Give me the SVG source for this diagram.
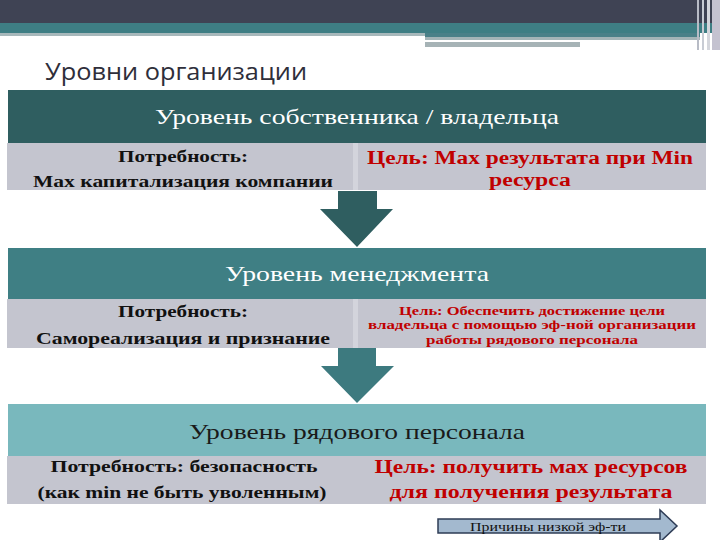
<svg xmlns="http://www.w3.org/2000/svg" width="720" height="540" viewBox="0 0 720 540">
<style>
.hdr{font-family:"Liberation Serif","DejaVu Serif",serif;font-size:22px;text-anchor:middle}
.need{font-family:"Liberation Serif","DejaVu Serif",serif;font-weight:bold;font-size:16px;fill:#111;text-anchor:middle}
.goal{font-family:"Liberation Serif","DejaVu Serif",serif;font-weight:bold;fill:#c00000;text-anchor:middle}
.cell{fill:#c4c5cf}
.split{fill:#d3d4dc}
</style>
<rect width="720" height="540" fill="#ffffff"/>
<g id="banner">
<rect x="0" y="0" width="720" height="23" fill="#3f4354"/>
<rect x="0" y="23" width="720" height="10" fill="#3e7e84"/>
<rect x="0" y="33" width="425" height="3" fill="#a7b8bb"/>
<rect x="425" y="33" width="275" height="4" fill="#4a8088"/>
<rect x="425" y="37" width="275" height="3" fill="#a4b4b7"/>
<rect x="425" y="40" width="242" height="2" fill="#ffffff"/>
<rect x="425" y="42" width="155" height="5" fill="#a6b3b6"/>
<rect x="697" y="0" width="2" height="50" fill="#b8bcc6"/>
<rect x="702" y="0" width="2" height="50" fill="#c8ccd4"/>
<rect x="707" y="0" width="3" height="50" fill="#d4d6dc"/>
<rect x="712" y="0" width="8" height="50" fill="#c4c2d0"/>
<text x="45" y="80" font-family="'Open Sans','Liberation Sans',sans-serif" font-size="24" fill="#2e2e3a" textLength="262" lengthAdjust="spacingAndGlyphs">Уровни организации</text>
</g>
<g id="node-owner">
<rect x="8" y="90" width="698" height="53" fill="#2f5e60"/>
<text class="hdr" x="357" y="124" fill="#ffffff" textLength="404" lengthAdjust="spacingAndGlyphs">Уровень собственника / владельца</text>
<rect class="cell" x="7" y="143" width="699" height="47"/>
<rect class="split" x="353" y="143" width="5" height="47"/>
<text class="need" x="183" y="162" textLength="130" lengthAdjust="spacingAndGlyphs">Потребность:</text>
<text class="need" x="183" y="187" textLength="300" lengthAdjust="spacingAndGlyphs">Max капитализация компании</text>
<text class="goal" x="530" y="164" font-size="18" textLength="326" lengthAdjust="spacingAndGlyphs">Цель: Max результата при Min</text>
<text class="goal" x="530" y="186" font-size="18" textLength="82" lengthAdjust="spacingAndGlyphs">ресурса</text>
</g>
<g id="node-mgmt">
<rect x="8" y="248" width="698" height="51" fill="#3f7f84"/>
<text class="hdr" x="357" y="281" fill="#ffffff" textLength="264" lengthAdjust="spacingAndGlyphs">Уровень менеджмента</text>
<rect class="cell" x="7" y="299" width="699" height="49"/>
<rect class="split" x="353" y="299" width="5" height="49"/>
<text class="need" x="183" y="317" textLength="130" lengthAdjust="spacingAndGlyphs">Потребность:</text>
<text class="need" x="183" y="344" font-size="17" textLength="294" lengthAdjust="spacingAndGlyphs">Самореализация и признание</text>
<text class="goal" x="532" y="315" font-size="13" textLength="266" lengthAdjust="spacingAndGlyphs">Цель: Обеспечить достижение цели</text>
<text class="goal" x="532" y="329" font-size="13" textLength="328" lengthAdjust="spacingAndGlyphs">владельца с помощью эф-ной организации</text>
<text class="goal" x="532" y="344" font-size="13" textLength="212" lengthAdjust="spacingAndGlyphs">работы рядового персонала</text>
</g>
<g id="node-staff">
<rect x="8" y="404" width="698" height="52" fill="#79b8bd"/>
<text class="hdr" x="357" y="439" fill="#1a1a1a" textLength="336" lengthAdjust="spacingAndGlyphs">Уровень рядового персонала</text>
<rect class="cell" x="7" y="456" width="699" height="48"/>
<text class="need" x="184" y="472" textLength="267" lengthAdjust="spacingAndGlyphs">Потребность: безопасность</text>
<text class="need" x="182" y="498" textLength="289" lengthAdjust="spacingAndGlyphs">(как min не быть уволенным)</text>
<text class="goal" x="531" y="473" font-size="19" textLength="313" lengthAdjust="spacingAndGlyphs">Цель: получить мах ресурсов</text>
<text class="goal" x="531" y="498" font-size="19" textLength="283" lengthAdjust="spacingAndGlyphs">для получения результата</text>
</g>
<g id="connectors">
<polygon points="338,191 377,191 377,209 393,209 357,247 320,209 338,209" fill="#2f5e60"/>
<polygon points="338,348 376,348 376,366 394,366 357,403 321,366 338,366" fill="#3d7a7f"/>
</g>
<g id="node-reasons">
<polygon points="438,519 660,519 660,510 677,526 660,542 660,533 438,533" fill="#a3b9cf" stroke="#2e3c56" stroke-width="1.5"/>
<text x="548" y="531" font-family="'Liberation Serif','DejaVu Serif',serif" font-size="13" fill="#111" text-anchor="middle" textLength="156" lengthAdjust="spacingAndGlyphs">Причины низкой эф-ти</text>
</g>
</svg>
